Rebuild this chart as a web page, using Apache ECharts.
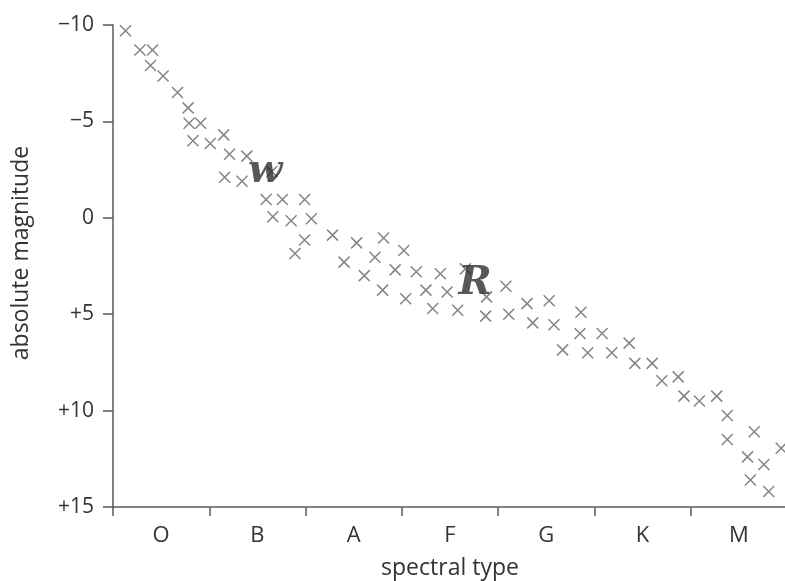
<!DOCTYPE html>
<html>
<head>
<meta charset="utf-8">
<script src="https://cdn.jsdelivr.net/npm/echarts@6/dist/echarts.min.js"></script>
<style>
  html, body { margin: 0; padding: 0; background: #fff; }
  #hr-chart { width: 785px; height: 581px; }
</style>
</head>
<body>
<div id="hr-chart"></div>
<script>
// spectral classes (one unit of the hidden value axis each)
const spectralTypes = ["O", "B", "A", "F", "G", "K", "M"];

// star positions: x = position along spectral sequence, y = absolute magnitude
const starX = [
  0.13, 0.28, 0.41, 0.39, 0.52, 0.67, 0.78, 0.79, 0.91, 0.83,
  1.01, 1.15, 1.21, 1.39, 1.16, 1.34, 1.65, 1.59, 1.76, 1.99,
  1.66, 1.85, 2.06, 1.99, 1.89, 2.28, 2.53, 2.40, 2.81, 2.72,
  3.02, 2.61, 2.93, 3.15, 3.40, 3.66, 2.80, 3.04, 3.25, 3.47,
  3.32, 3.58, 3.88, 4.08, 3.87, 4.11, 4.30, 4.36, 4.53, 4.58,
  4.86, 4.67, 4.85, 5.08, 4.93, 5.18, 5.36, 5.42, 5.60, 5.70,
  5.87, 5.93, 6.09, 6.27, 6.38, 6.38, 6.66, 6.94, 6.59, 6.76,
  6.62, 6.81
];
const starMag = [
  -9.7, -8.7, -8.7, -7.9, -7.35, -6.5, -5.7, -4.9, -4.9, -4.0,
  -3.85, -4.3, -3.3, -3.2, -2.1, -1.9, -2.4, -0.95, -0.95, -0.95,
  -0.05, 0.15, 0.05, 1.15, 1.85, 0.9, 1.3, 2.3, 1.05, 2.05,
  1.7, 3.0, 2.7, 2.8, 2.9, 2.65, 3.75, 4.2, 3.75, 3.85,
  4.7, 4.8, 4.1, 3.55, 5.1, 5.0, 4.45, 5.45, 4.3, 5.55,
  4.9, 6.85, 6.0, 6.0, 7.0, 7.0, 6.5, 7.55, 7.55, 8.45,
  8.25, 9.25, 9.5, 9.25, 10.25, 11.5, 11.1, 11.95, 12.4, 12.8,
  13.6, 14.2
];

// hand-written marks on the page
const noteText = ["w", "R"];
const noteX = [1.58, 3.76];
const noteY = [-2.4, 3.4];

const yTicks = { min: -10, max: 15, step: 5 };

const chartDom = echarts.init(document.getElementById("hr-chart"));
const font = "'Open Sans', 'Noto Sans', sans-serif";
const axisGray = "#5a5a5a";
const textGray = "#333";

chartDom.setOption({
  animation: false,
  grid: { left: 113, top: 25, right: -2, bottom: 74, outerBoundsMode: "none" },
  xAxis: [
    {
      type: "category",
      data: spectralTypes,
      boundaryGap: true,
      name: "spectral type",
      nameLocation: "middle",
      nameGap: 50,
      nameTextStyle: { color: textGray, fontSize: 23, fontFamily: font },
      axisLine: { onZero: false, lineStyle: { color: axisGray, width: 1.5 } },
      axisTick: { show: true, length: 9, lineStyle: { color: axisGray, width: 1.5 } },
      axisLabel: { color: textGray, fontSize: 22, fontFamily: font, margin: 18 },
      splitLine: { show: false },
    },
    {
      type: "value",
      min: 0,
      max: 7,
      show: false,
    },
  ],
  yAxis: {
    type: "value",
    inverse: true,
    min: yTicks.min,
    max: yTicks.max,
    interval: yTicks.step,
    name: "absolute magnitude",
    nameLocation: "middle",
    nameGap: 80,
    nameTextStyle: { color: textGray, fontSize: 23, fontFamily: font, padding: [0, 0, 0, 26] },
    axisLine: { show: true, onZero: false, lineStyle: { color: axisGray, width: 1.5 } },
    axisTick: { show: true, length: 10, lineStyle: { color: axisGray, width: 1.5 } },
    axisLabel: {
      color: textGray,
      fontSize: 21,
      fontFamily: font,
      margin: 19,
      formatter: (v) => (v > 0 ? "+" + v : v < 0 ? "\u2212" + Math.abs(v) : "0"),
    },
    splitLine: { show: false },
  },
  series: [
    {
      type: "scatter",
      xAxisIndex: 1,
      data: starX.map((x, i) => [x, starMag[i]]),
      symbol: "path://M0,0L10,10M10,0L0,10",
      symbolSize: 11,
      itemStyle: { color: "transparent", borderColor: "#666", borderWidth: 1.5 },
      silent: true,
    },
    {
      type: "scatter",
      xAxisIndex: 1,
      data: noteX.map((x, i) => [x, noteY[i], noteText[i]]),
      symbolSize: 0,
      label: {
        show: true,
        position: "inside",
        formatter: (p) => p.data[2],
        color: "#2e2e2e",
        fontSize: 40,
        fontStyle: "italic",
        fontWeight: "bold",
        fontFamily: "'DejaVu Serif', serif",
      },
      silent: true,
    },
  ],
});
</script>
</body>
</html>
